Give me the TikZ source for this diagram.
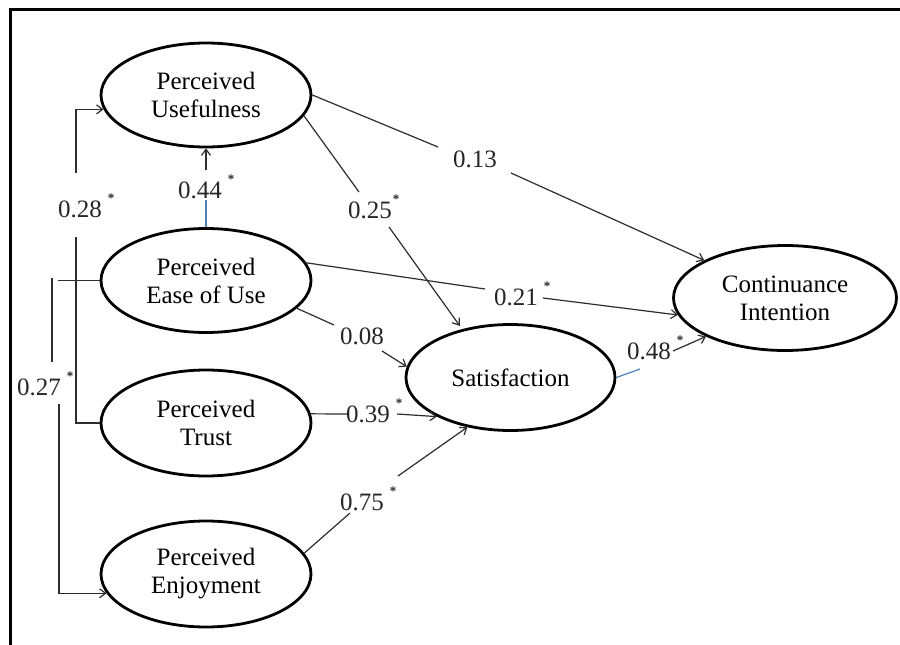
\documentclass[tikz,border=0pt]{standalone}
\usepackage{fontspec}
\setmainfont{Liberation Serif}
\usetikzlibrary{shapes.geometric,arrows.meta}
\definecolor{linegray}{RGB}{45,45,45}
\definecolor{wordblue}{RGB}{79,129,189}
\newcommand{\sigstar}{\rlap{\hspace{6pt}\raisebox{15pt}{\fontsize{13}{13}\selectfont\bfseries *}}}
\begin{document}
\begin{tikzpicture}[x=1pt,y=-1pt,
  latent/.style={ellipse, draw=black, line width=2.8pt, inner sep=0pt, align=center,
                 font=\fontsize{25}{28}\selectfont},
  coef/.style={anchor=base, inner sep=0pt, font=\fontsize{25}{28}\selectfont, text=black!85},
  conn/.style={draw=linegray, line width=1.2pt},
  arr/.style={conn, -{Straight Barb[length=6pt,width=9pt]}},
  blueline/.style={draw=wordblue, line width=1.2pt},
  frameline/.style={draw=black, line width=3pt}]
\useasboundingbox (0,0) rectangle (900,645);
\fill[white] (0,0) rectangle (900,645);
\draw[frameline] (10,645) -- (10,9) -- (900,9);

% latent variables
\node[latent, minimum width=210pt, minimum height=104pt] (PU)  at (206,95)    {Perceived\\Usefulness};
\node[latent, minimum width=210pt, minimum height=104pt] (PEU) at (206,280.5) {Perceived\\Ease of Use};
\node[latent, minimum width=210pt, minimum height=106pt] (PT)  at (206,423)   {Perceived\\Trust};
\node[latent, minimum width=210pt, minimum height=106pt] (PE)  at (206,574)   {Perceived\\Enjoyment};
\node[latent, minimum width=209pt, minimum height=106pt] (SAT) at (510.5,377.5) {Satisfaction};
\node[latent, minimum width=223pt, minimum height=105pt] (CI)  at (785,298)   {Continuance\\Intention};

% coefficients
\node[coef] (l28) at (80,217)  {0.28\sigstar};
\node[coef] (l44) at (200,198) {0.44\sigstar};
\node[coef] (l25) at (370,218) {0.25\rlap{\hspace{1pt}\raisebox{15pt}{\fontsize{13}{13}\selectfont\bfseries *}}};
\node[coef] (l13) at (475,167) {0.13};
\node[coef] (l21) at (516,305) {0.21\sigstar};
\node[coef] (l08) at (362,344) {0.08};
\node[coef] (l39) at (368,422) {0.39\sigstar};
\node[coef] (l48) at (649,359) {0.48\sigstar};
\node[coef] (l27) at (39,395)  {0.27\sigstar};
\node[coef] (l75) at (362,510) {0.75\sigstar};

% gap coordinates
\coordinate (a1) at (438,147); \coordinate (a2) at (511,173);
\coordinate (b1) at (359,192); \coordinate (b2) at (389,227);
\coordinate (c1) at (206,200); \coordinate (c2) at (206,170);
\coordinate (d1) at (485,289); \coordinate (d2) at (543,298);
\coordinate (e1) at (334,325); \coordinate (e2) at (382,351);
\coordinate (f1) at (347,414); \coordinate (f2) at (397,414);
\coordinate (g1) at (350,513); \coordinate (g2) at (398,476);
\coordinate (h1) at (640,369); \coordinate (h2) at (673,351);
\coordinate (i1) at (76,237);  \coordinate (i2) at (76,173);
\coordinate (j1) at (52,278);  \coordinate (j2) at (52,362); \coordinate (j3) at (59,404);

% PU -> CI (0.13)
\draw[conn] (PU.east) -- (a1);
\draw[arr] (a2) -- (CI.155);
% PU -> SAT (0.25)
\draw[conn] (PU.-12) -- (b1);
\draw[arr, shorten >=4pt] (b2) -- (SAT.135);
% PEU -> PU (0.44)
\draw[blueline] (PEU.north) -- (c1);
\draw[arr] (c2) -- (PU.south);
% PEU -> CI (0.21)
\draw[conn] (PEU.10) -- (d1);
\draw[arr] (d2) -- (CI.-171);
% PEU -> SAT (0.08)
\draw[conn] (PEU.-17) -- (e1);
\draw[arr] (e2) -- (SAT.174);
% PT -> SAT (0.39)
\draw[conn] (PT.5) -- (f1);
\draw[arr] (f2) -- (SAT.-152);
% PE -> SAT (0.75)
\draw[conn] (PE.12) -- (g1);
\draw[arr] (g2) -- (SAT.-131);
% SAT -> CI (0.48)
\draw[blueline] (SAT.east) -- (h1);
\draw[arr] (h2) -- (CI.-154);
% PT -> PU (0.28)
\draw[conn] (PT.west) -| (i1);
\draw[arr] (i2) |- (PU.-172);
% PEU -> PE (0.27)
\draw[conn] (PEU.west) -- ++(-42,0);
\draw[conn] (j1) -- (j2);
\draw[arr] (j3) |- (PE.-169);
\end{tikzpicture}
\end{document}
